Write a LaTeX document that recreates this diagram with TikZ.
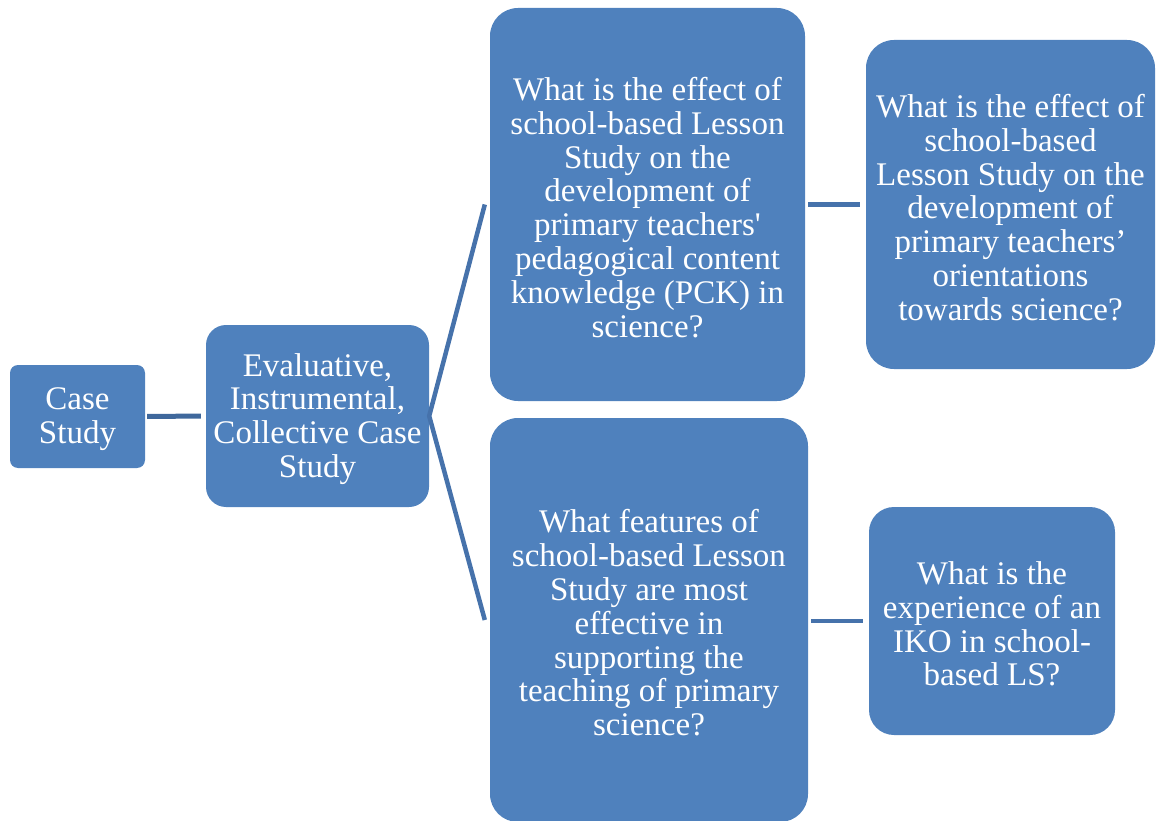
\documentclass[tikz,border=0pt]{standalone}
\usepackage{fontspec}
\setmainfont{Liberation Serif}
\definecolor{boxblue}{HTML}{4F81BD}
\definecolor{linedark}{HTML}{3F689C}
\definecolor{lineblue}{HTML}{4672AB}
\begin{document}
\begin{tikzpicture}[x=1pt,y=-1pt,
  qbox/.style={fill=boxblue, draw=none, inner sep=0pt},
  qtext/.style={text=white, align=center, inner sep=0pt,
    font=\fontsize{33}{33.8}\selectfont},
  link/.style={draw=lineblue, line width=4.5pt},
  linkdark/.style={draw=linedark, line width=5pt}]
\useasboundingbox (0,0) rectangle (1160,821);
\node[qbox, minimum width=135pt, minimum height=103pt, rounded corners=8pt] (cs) at (77.5,416.5) {};
\node[qbox, minimum width=223pt, minimum height=182pt, rounded corners=20pt] (ev) at (317.5,416) {};
\node[qbox, minimum width=315pt, minimum height=393pt, rounded corners=28pt] (tm) at (647.5,204.5) {};
\node[qbox, minimum width=289pt, minimum height=329pt, rounded corners=28pt] (tr) at (1010.5,204.5) {};
\node[qbox, minimum width=318pt, minimum height=404pt, rounded corners=28pt] (bm) at (649,620) {};
\node[qbox, minimum width=246pt, minimum height=228pt, rounded corners=25pt] (br) at (992,621) {};
\node[qtext] (cst) at ([yshift=-3pt]cs.center) {Case\\Study};
\node[qtext] (evt) at ([yshift=-3pt]ev.center) {Evaluative,\\Instrumental,\\Collective Case\\Study};
\node[qtext] (tmt) at ([yshift=-3pt]tm.center) {What is the effect of\\school-based Lesson\\Study on the\\development of\\primary teachers\textquotesingle\\pedagogical content\\knowledge (PCK) in\\science?};
\node[qtext] (trt) at ([yshift=-3pt]tr.center) {What is the effect of\\school-based\\Lesson Study on the\\development of\\primary teachers’\\orientations\\towards science?};
\node[qtext] (bmt) at ([yshift=-3pt]bm.center) {What features of\\school-based Lesson\\Study are most\\effective in\\supporting the\\teaching of primary\\science?};
\node[qtext] (brt) at ([yshift=-3pt]br.center) {What is the\\experience of an\\IKO in school-\\based LS?};
\draw[linkdark, shorten <=2pt, shorten >=5pt] (cs.east) -- (ev.west);
\draw[link, line join=miter] ([xshift=-5pt]tm.west) -- (ev.east) -- ([xshift=-5pt]bm.west);
\draw[link, shorten <=3pt, shorten >=6pt] (tm.east) -- (tr.west);
\draw[link, shorten <=3pt, shorten >=6pt] (bm.east |- br.west) -- (br.west);
\end{tikzpicture}
\end{document}
